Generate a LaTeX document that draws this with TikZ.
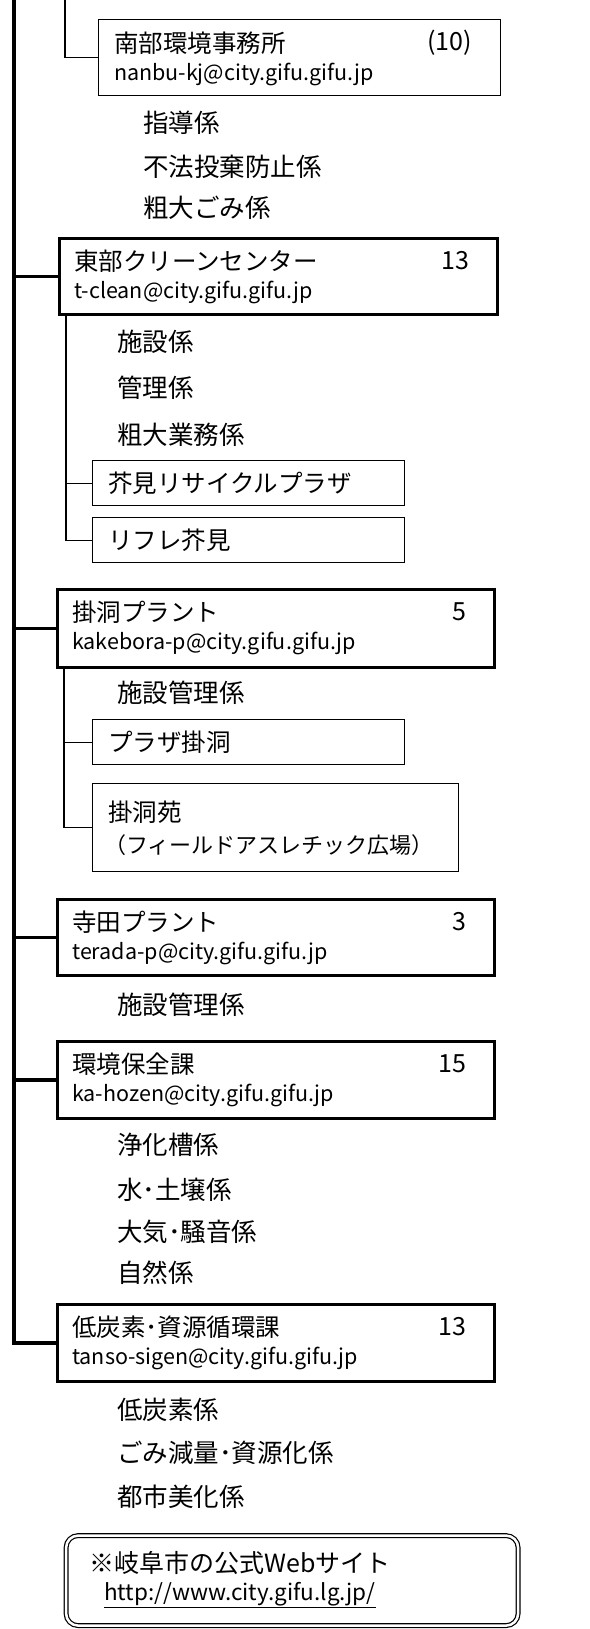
\documentclass[tikz,border=0pt]{standalone}
\usepackage{fontspec}
\setmainfont{Noto Sans CJK JP}
\usepackage{tikz}

\begin{document}
\begin{tikzpicture}
  [x=1pt, y=-1pt,
   thinbox/.style={draw, line width=1.3pt, inner sep=0pt, anchor=north west},
   thickbox/.style={draw, line width=2.7pt, inner sep=0pt, anchor=north west},
   lbl/.style={anchor=west, inner sep=0pt, font=\fontsize{24.5}{28}\selectfont},
   mail/.style={anchor=west, inner sep=0pt, font=\fontsize{21.5}{25}\selectfont},
   cnt/.style={anchor=east, inner sep=0pt, font=\fontsize{25}{28}\selectfont},
   sub/.style={anchor=west, inner sep=0pt, font=\fontsize{25.5}{29}\selectfont},
   trunk/.style={line width=3.3pt},
   twig/.style={line width=1.3pt}]
  \useasboundingbox (0,0) rectangle (589,1629);

  % boxes
  \node[thinbox, minimum width=402pt, minimum height=76pt] (nanbu) at (98,19) {};
  \node[thickbox, minimum width=438pt, minimum height=76pt] (toubu) at (58,237) {};
  \node[thinbox, minimum width=312pt, minimum height=45pt] (akutami) at (92,460) {};
  \node[thinbox, minimum width=312pt, minimum height=45pt] (rifure) at (92,517) {};
  \node[thickbox, minimum width=437pt, minimum height=78pt] (kakebora) at (56,588) {};
  \node[thinbox, minimum width=312pt, minimum height=45pt] (plaza) at (92,719) {};
  \node[thinbox, minimum width=366pt, minimum height=88pt] (kakeboraen) at (92,783) {};
  \node[thickbox, minimum width=437pt, minimum height=76pt] (terada) at (56,898) {};
  \node[thickbox, minimum width=437pt, minimum height=77pt] (hozen) at (56,1040) {};
  \node[thickbox, minimum width=437pt, minimum height=77pt] (tanso) at (56,1303) {};

  \foreach \unit/\lab/\addr/\cnt in {nanbu/南部環境事務所/nanbu-kj@city.gifu.gifu.jp/(10),
      toubu/東部クリーンセンター/t-clean@city.gifu.gifu.jp/13,
      kakebora/掛洞プラント/kakebora-p@city.gifu.gifu.jp/5,
      terada/寺田プラント/terada-p@city.gifu.gifu.jp/3,
      hozen/環境保全課/ka-hozen@city.gifu.gifu.jp/15,
      tanso/低炭素･資源循環課/tanso-sigen@city.gifu.gifu.jp/13}{
    \node[lbl] (\unit-name) at ([shift={(16,24)}]\unit.north west) {\lab};
    \node[mail] (\unit-mail) at ([shift={(16,55)}]\unit.north west) {\addr};
    \node[cnt] (\unit-cnt) at ([shift={(-29,24)}]\unit.north east) {\cnt};}

  \foreach \unit/\lab in {akutami/芥見リサイクルプラザ,rifure/リフレ芥見,plaza/プラザ掛洞}{
    \node[lbl] (\unit-name) at ([xshift=16pt]\unit.west) {\lab};}
  \node[lbl] (kakeboraen-name) at (108,812) {掛洞苑};
  \node[lbl, font=\fontsize{22}{26}\selectfont] (kakeboraen-park) at (104,845)
    {（フィールドアスレチック広場）};

  % sub sections
  \foreach \lab/\y in {指導係/123,不法投棄防止係/167,粗大ごみ係/208}{
    \node[sub] (ka\y) at (143,\y) {\lab};}
  \foreach \lab/\y in {施設係/342,管理係/388,粗大業務係/435,施設管理係/693,
      施設管理係/1005,浄化槽係/1145,水･土壌係/1190,大気･騒音係/1232,自然係/1273,
      低炭素係/1410,ごみ減量･資源化係/1453,都市美化係/1497}{
    \node[sub] (ka\y) at (117,\y) {\lab};}

  % lines
  \coordinate (top) at (14,0);
  \coordinate (upper) at (65,0);
  \coordinate (t1) at ([xshift=8pt]toubu.south west);
  \coordinate (k1) at ([xshift=8pt]kakebora.south west);
  \draw[trunk] (top) |- (tanso.west);
  \foreach \unit in {toubu,kakebora,terada,hozen}{
    \draw[trunk] (\unit.west) -- (\unit.west -| top);}
  \draw[twig] (upper) |- (nanbu.west);
  \draw[twig] (t1) |- (rifure.west);
  \draw[twig] (akutami.west) -- (akutami.west -| t1);
  \draw[twig] (k1) |- (kakeboraen.west);
  \draw[twig] (plaza.west) -- (plaza.west -| k1);

  % web site
  \node[draw, double, double distance=2.5pt, line width=1.2pt, rounded corners=12pt,
    anchor=north west, minimum width=452pt, minimum height=90pt] (web) at (65.5,1535) {};
  \node[lbl, font=\fontsize{25}{28}\selectfont] (web-title) at (89,1563) {※岐阜市の公式Webサイト};
  \node[mail, font=\fontsize{22.5}{26}\selectfont] (web-url) at (104,1595)
    {\underline{http://www.city.gifu.lg.jp/}};
\end{tikzpicture}
\end{document}
